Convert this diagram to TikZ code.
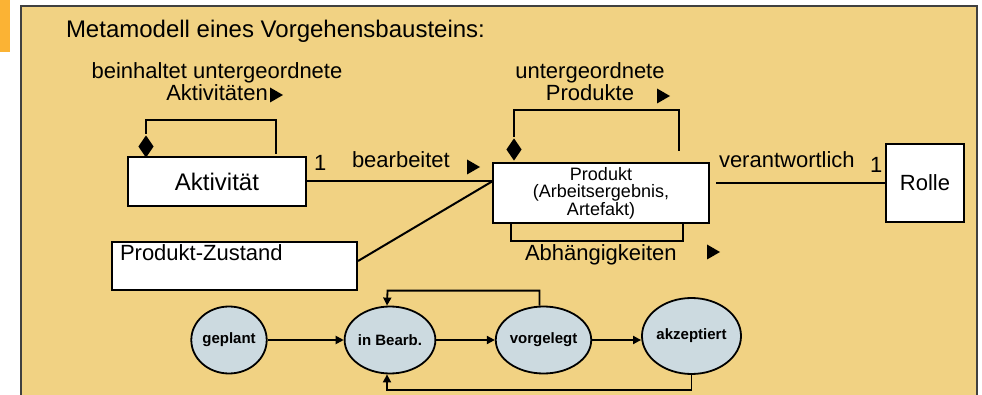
\documentclass[tikz,border=0pt]{standalone}
\usepackage{fontspec}
\setmainfont{Liberation Sans}
\usetikzlibrary{shapes.geometric,arrows.meta}

\definecolor{panelgelb}{HTML}{F1D283}
\definecolor{balkenorange}{HTML}{FBB334}
\definecolor{zustandblau}{HTML}{CCDAE0}

\tikzset{
	kasten/.style={draw, fill=white, line width=2pt, inner sep=0pt},
	beschr/.style={inner sep=0pt, font=\fontsize{22}{22}\selectfont},
	raute/.style={diamond, fill=black, inner sep=0pt, minimum width=16pt, minimum height=23pt, anchor=south},
	zustand/.style={ellipse, draw, fill=zustandblau, line width=1.8pt, inner sep=0pt, minimum width=75pt, minimum height=67pt, font=\fontsize{15}{15}\selectfont\bfseries},
	pfeil/.style={line width=1.8pt, -{Triangle[length=8pt,width=8pt]}},
}
\newcommand{\dreieck}[1]{\fill #1 ++(0,-7.5) -- ++(13,7.5) -- ++(-13,7.5) -- cycle;}

\begin{document}
\begin{tikzpicture}[x=1pt,y=-1pt,line width=2pt]
	% Rahmen und Hintergrund
	\useasboundingbox (0,0) rectangle (982,395);
	\clip (0,0) rectangle (982,395);
	\fill[balkenorange] (0,0) rectangle (10,52);
	\filldraw[fill=panelgelb, draw=black!75, line width=2.2pt] (21,6) rectangle (977,430);
	% Ueberschrift
	\node[beschr, anchor=base west, font=\fontsize{24}{24}\selectfont] (titel) at (65,38) {Metamodell eines Vorgehensbausteins:};
	% Klassen
	\node[kasten, minimum width=178pt, minimum height=49pt, font=\fontsize{24}{24}\selectfont] (akt) at (217,181.5) {Aktivität};
	\node[kasten, minimum width=216pt, minimum height=60pt, align=center, font=\fontsize{18}{17.5}\selectfont] (prod) at (601,193) {Produkt\\(Arbeitsergebnis,\\Artefakt)};
	\node[kasten, minimum width=78pt, minimum height=78pt, font=\fontsize{22}{22}\selectfont] (rolle) at (925,183) {Rolle};
	\node[kasten, minimum width=245pt, minimum height=48pt] (zust) at (234.5,266) {};
	\node[beschr, anchor=base west] (zusttext) at (119,261) {Produkt-Zustand};
	% Aggregationen
	\node[raute] (r1) at ([xshift=19pt,yshift=-3pt]akt.north west) {};
	\draw (r1.north) |- ++(130,-14) -- ++(0,34);
	\node[raute] (r2) at ([xshift=22pt]prod.north west) {};
	\draw (r2.north) |- ++(165,-27) -- ++(0,41);
	\draw ([xshift=19pt]prod.south west) -- ++(0,17) -| ([xshift=-27pt]prod.south east);
	% Assoziationen
	\draw (akt.east) -- (akt.east -| prod.west);
	\draw ([yshift=5pt]zust.east) -- (akt.east -| prod.west);
	\draw ([xshift=6pt]prod.east |- rolle.west) -- (rolle.west);
	% Beschriftungen
	\node[beschr, align=center, anchor=north] (lbl1) at (217,62) {beinhaltet untergeordnete\\Aktivitäten};
	\dreieck{(270,95)}
	\node[beschr, anchor=base west] (eins1) at (313,171) {1};
	\node[beschr, anchor=base west] (bearb) at (351,168) {bearbeitet};
	\dreieck{(467,167)}
	\node[beschr, align=center, anchor=north] (lbl2) at (590,62) {untergeordnete\\Produkte};
	\dreieck{(657,96)}
	\node[beschr, anchor=base west] (verant) at (718,168) {verantwortlich};
	\node[beschr, anchor=base west] (eins2) at (869,173) {1};
	\node[beschr, anchor=base west] (abh) at (524,261) {Abhängigkeiten};
	\dreieck{(707,252)}
	% Zustandsautomat
	\node[zustand] (geplant) at (229,340) {geplant};
	\node[zustand] (inbearb) at (390,340) {in Bearb.};
	\node[zustand] (vorgelegt) at (543.5,340) {vorgelegt};
	\node[zustand, minimum width=83pt, minimum height=76pt] (akzept) at (691.5,336) {akzeptiert};
	\draw[pfeil] (geplant) -- (inbearb);
	\draw[pfeil] (inbearb) -- (vorgelegt);
	\draw[pfeil] (vorgelegt.east) -- (vorgelegt.east -| akzept.west);
	\draw[pfeil] ([xshift=-4pt]vorgelegt.north) |- ++(-152,-15) -- ([xshift=-3pt]inbearb.north);
	\draw[pfeil] (akzept.south) -- ++(0,15) -| ([xshift=-3pt]inbearb.south);
\end{tikzpicture}
\end{document}
